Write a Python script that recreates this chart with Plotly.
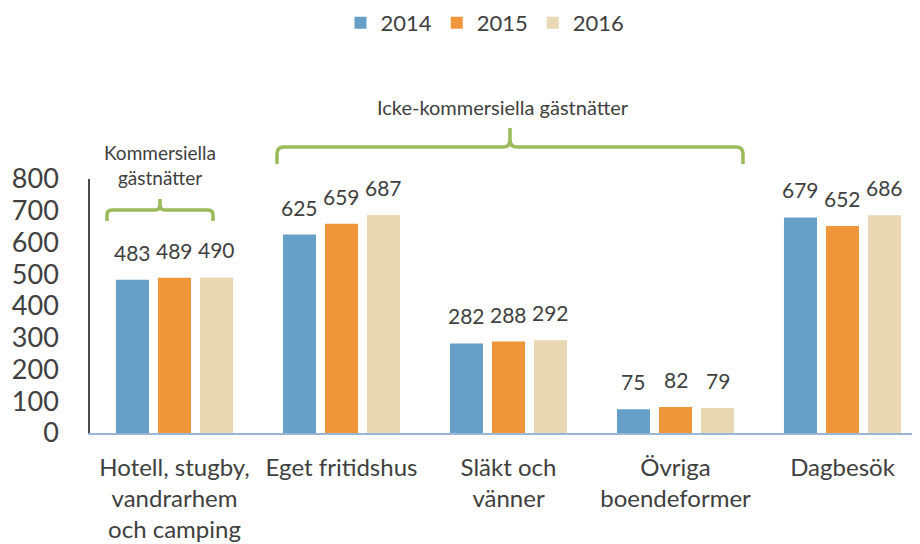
import plotly.graph_objects as go

categories = ["Hotell, stugby,<br>vandrarhem<br>och camping", "Eget fritidshus",
              "Släkt och<br>vänner", "Övriga<br>boendeformer", "Dagbesök"]
years = ["2014", "2015", "2016"]
v2014 = [483, 625, 282, 75, 679]
v2015 = [489, 659, 288, 82, 652]
v2016 = [490, 687, 292, 79, 686]
series = [v2014, v2015, v2016]
colors = ["#66A0C8", "#EF953A", "#E9D8B3"]
y_ticks = [0, 100, 200, 300, 400, 500, 600, 700, 800]

FONT = "Lato"
TXT = "#404040"
OFF = 8  # page body margin
W, H = 920 - OFF, 544 - OFF
# plot area in screen pixels: x 90..920, y 179..433
ML, MR = 90 - OFF, 0
MT = 179 - OFF
MB = H - (433 - OFF)
BARGAP = 0.245
XRANGE = [-0.506, 4.464]

fig = go.Figure()
for name, vals, col in zip(years, series, colors):
    fig.add_trace(go.Bar(name=name, x=categories, y=vals, marker_color=col,
                         marker_line_width=0))

# data labels
n = len(series)
slot = (1 - BARGAP) / n
annotations = []
for k, vals in enumerate(series):
    for i, v in enumerate(vals):
        annotations.append(dict(x=i + (k - (n - 1) / 2) * slot, y=v, xref="x", yref="y",
                                text=str(v), showarrow=False, yanchor="bottom",
                                yshift=13, font=dict(family=FONT, size=21, color=TXT)))

# helpers for decorative braces (screen pixel -> paper)
pw, ph = W - ML - MR, H - MT - MB
def px(x, y):
    x -= OFF
    y -= OFF
    return (x - ML) / pw, (H - MB - y) / ph

def brace(xa, xb, yh, ye, yt, r=6):
    c = (xa + xb) / 2
    def P(x, y):
        a, b = px(x, y)
        return f"{a:.5f},{b:.5f}"
    path = (f"M{P(xa, ye)} L{P(xa, yh + r)} Q{P(xa, yh)} {P(xa + r, yh)} "
            f"L{P(c - r, yh)} Q{P(c, yh)} {P(c, yh - r)} L{P(c, yt)} "
            f"M{P(c, yh - r)} Q{P(c, yh)} {P(c + r, yh)} "
            f"L{P(xb - r, yh)} Q{P(xb, yh)} {P(xb, yh + r)} L{P(xb, ye)}")
    return dict(type="path", xref="paper", yref="paper", path=path,
                line=dict(color="#9BBB59", width=3.5))

shapes = [brace(107, 213, 210, 221, 199, r=5), brace(277, 743, 147, 164, 128, r=7)]

ax, ay = px(160, 165)
annotations.append(dict(x=ax, y=ay, xref="paper", yref="paper", showarrow=False,
                        xanchor="center", yanchor="middle",
                        text="Kommersiella<br>gästnätter", align="center",
                        font=dict(family=FONT, size=19, color=TXT)))
bx, by = px(503, 107)
annotations.append(dict(x=bx, y=by, xref="paper", yref="paper", showarrow=False,
                        xanchor="center", yanchor="middle",
                        text="Icke-kommersiella gästnätter",
                        font=dict(family=FONT, size=20, color=TXT)))

lx, ly = px(485, 23)
fig.update_layout(
    width=W, height=H,
    margin=dict(l=ML, r=MR, t=MT, b=MB, autoexpand=False),
    paper_bgcolor="white", plot_bgcolor="white",
    barmode="group", bargap=BARGAP, bargroupgap=0.214,
    font=dict(family=FONT, color=TXT),
    legend=dict(orientation="h", x=lx, y=ly, xanchor="center", yanchor="middle",
                font=dict(family=FONT, size=22, color=TXT), itemwidth=30,
                traceorder="normal"),
    shapes=shapes, annotations=annotations,
    xaxis=dict(showline=True, linecolor="#9AB5D6", linewidth=2, showgrid=False,
               ticks="", tickfont=dict(family=FONT, size=24, color=TXT),
               ticklabelstandoff=12, range=XRANGE, automargin=False),
    yaxis=dict(range=[0, 800], tickvals=y_ticks, showline=True, linecolor="#4F4A4A",
               linewidth=1.5, showgrid=False, zeroline=False, ticks="",
               tickfont=dict(family=FONT, size=27, color=TXT), ticklabelstandoff=24,
               automargin=False),
)

fig.write_html("out.html")
